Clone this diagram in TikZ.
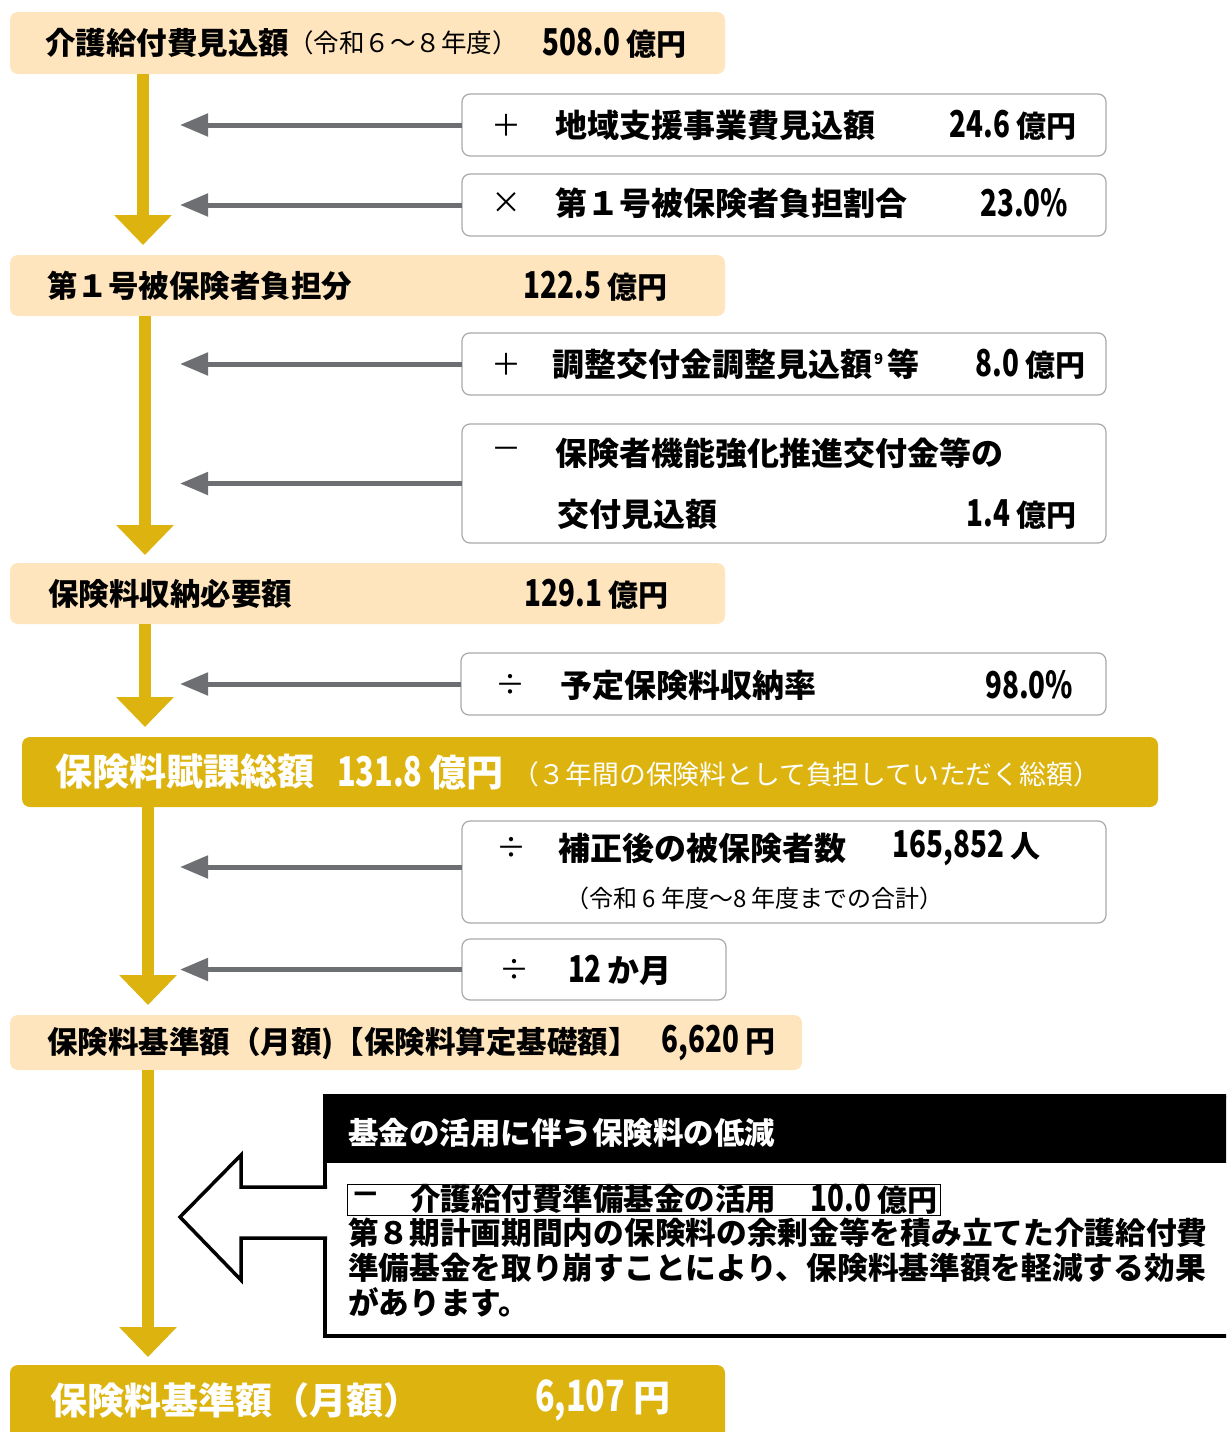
\documentclass[tikz,border=0pt]{standalone}
\usepackage{fontspec}
\setmainfont{Noto Sans CJK JP}
\newfontfamily\numf{Noto Sans CJK JP}[FakeStretch=0.75]
\usetikzlibrary{arrows.meta}
\definecolor{peach}{HTML}{FFE5BE}
\definecolor{gold}{HTML}{DDB40F}
\definecolor{agray}{HTML}{6E6F72}
\definecolor{bgray}{HTML}{A9A9A9}
\newcommand\valnum[1]{{\numf\fontsize{37}{38}\selectfont #1}}
\newcommand\valnumL[1]{{\numf\fontsize{43}{44}\selectfont #1}}
\tikzset{
  base/.style={inner sep=0pt, outer sep=0pt},
  peachbox/.style={base, anchor=north west, fill=peach, rounded corners=8pt},
  goldbox/.style={base, anchor=north west, fill=gold, rounded corners=8pt},
  opbox/.style={base, anchor=north west, fill=white, draw=bgray, line width=1.2pt, rounded corners=8pt},
  lbl/.style={base, anchor=west, font=\fontsize{30.5}{36}\selectfont\bfseries},
  oplbl/.style={base, anchor=west, font=\fontsize{32}{36}\selectfont\bfseries},
  val/.style={base, anchor=east, font=\fontsize{30}{36}\selectfont\bfseries},
  sym/.style={base, anchor=center, font=\fontsize{30}{36}\selectfont},
  small/.style={base, anchor=west, font=\fontsize{24}{28}\selectfont},
  biglbl/.style={base, anchor=west, text=white, font=\fontsize{37}{42}\selectfont\bfseries},
  yarrow/.style={draw=gold, line width=12pt, -{Triangle[width=56pt,length=30pt]}},
  garrow/.style={draw=agray, line width=5pt, -{Triangle[width=22pt,length=28pt]}},
}
\begin{document}
\begin{tikzpicture}[x=1pt,y=-1pt]
\useasboundingbox (0,0) rectangle (1226,1432);
\clip (0,0) rectangle (1226,1432);

% ---------- boxes ----------
\node[peachbox, minimum width=715pt, minimum height=62pt] (A) at (10,12) {};
\node[opbox, minimum width=644pt, minimum height=62pt] (op1) at (462,94) {};
\node[opbox, minimum width=644pt, minimum height=62pt] (op2) at (462,174) {};
\node[peachbox, minimum width=715pt, minimum height=61pt] (B) at (10,255) {};
\node[opbox, minimum width=644pt, minimum height=62pt] (op3) at (462,333) {};
\node[opbox, minimum width=644pt, minimum height=119pt] (op4) at (462,424) {};
\node[peachbox, minimum width=715pt, minimum height=61pt] (C) at (10,563) {};
\node[opbox, minimum width=645pt, minimum height=62pt] (op5) at (461,653) {};
\node[goldbox, minimum width=1136pt, minimum height=70pt] (D) at (22,737) {};
\node[opbox, minimum width=644pt, minimum height=102pt] (op6) at (462,821) {};
\node[opbox, minimum width=264pt, minimum height=61pt] (op7) at (462,939) {};
\node[peachbox, minimum width=792pt, minimum height=55pt] (E) at (10,1015) {};
\node[goldbox, minimum width=715pt, minimum height=80pt] (F) at (10,1365) {};

% ---------- yellow flow arrows ----------
\coordinate (y1) at (143,245);
\coordinate (y2) at (145,555);
\coordinate (y3) at (145,727);
\coordinate (y4) at (148,1005);
\coordinate (y5) at (148,1357);
\draw[yarrow] (A.south -| y1) -- (y1);
\draw[yarrow] (B.south -| y2) -- (y2);
\draw[yarrow] (C.south -| y3) -- (y3);
\draw[yarrow] (D.south -| y4) -- (y4);
\draw[yarrow] (E.south -| y5) -- (y5);

% ---------- gray arrows ----------
\coordinate (gx) at (180,0);
\draw[garrow] (op1.west) -- (op1.west -| gx);
\draw[garrow] (op2.west) -- (op2.west -| gx);
\draw[garrow] (op3.west) -- (op3.west -| gx);
\draw[garrow] (op4.west) -- (op4.west -| gx);
\draw[garrow] (op5.west) -- (op5.west -| gx);
\coordinate (g6) at (462,867);
\draw[garrow] (g6) -- (g6 -| gx);
\draw[garrow] (op7.west) -- (op7.west -| gx);

% ---------- texts ----------
\node[lbl] (tA) at (45,43) {介護給付費見込額};
\node[small, font=\fontsize{25.5}{28}\selectfont] (tA2) at (288,43) {（令和６～８年度）};
\node[val] (vA) at (686,43) {\valnum{508.0}\hspace{6pt}億円};

\node[sym] (s1) at (506,125) {＋};
\node[oplbl] (t1) at (555,125) {地域支援事業費見込額};
\node[val] (v1) at (1076,125) {\valnum{24.6}\hspace{6pt}億円};

\node[sym] (s2) at (506,203) {×};
\node[oplbl] (t2) at (555,203) {第１号被保険者負担割合};
\node[val] (v2) at (1068,203) {\valnum{23.0\%}};

\node[lbl] (tB) at (47,286) {第１号被保険者負担分};
\node[val] (vB) at (667,286) {\valnum{122.5}\hspace{6pt}億円};

\node[sym] (s3) at (506,364) {＋};
\node[oplbl] (t3) at (552,364) {調整交付金調整見込額\hspace{2pt}\raisebox{12pt}{\fontsize{15}{15}\selectfont 9}\hspace{4pt}等};
\node[val] (v3) at (1085,364) {\valnum{8.0}\hspace{6pt}億円};

\node[sym] (s4) at (506,453) {－};
\node[oplbl] (t4) at (555,453) {保険者機能強化推進交付金等の};
\node[oplbl] (t4b) at (557,514) {交付見込額};
\node[val] (v4) at (1076,514) {\valnum{1.4}\hspace{6pt}億円};

\node[lbl] (tC) at (48,594) {保険料収納必要額};
\node[val] (vC) at (668,594) {\valnum{129.1}\hspace{6pt}億円};

\node[sym] (s5) at (510,685) {÷};
\node[oplbl] (t5) at (560,685) {予定保険料収納率};
\node[val] (v5) at (1073,685) {\valnum{98.0\%}};

\node[biglbl] (tD) at (55,772) {保険料賦課総額};
\node[biglbl] (vD) at (337,772) {{\numf\fontsize{41}{42}\selectfont 131.8}\hspace{7pt}億円};
\node[base, anchor=west, text=white, font=\fontsize{26.8}{30}\selectfont] (tD2) at (512,774) {（３年間の保険料として負担していただく総額）};

\node[sym] (s6) at (511,848) {÷};
\node[oplbl] (t6) at (558,848) {補正後の被保険者数};
\node[val] (v6) at (1040,848) {\valnum{165,852}\hspace{6pt}人};
\node[small] (t6b) at (565,898) {（令和 6 年度～8 年度までの合計）};

\node[sym] (s7) at (514,970) {÷};
\node[oplbl] (t7) at (568,970) {\valnum{12}\hspace{6pt}か月};

\node[lbl] (tE) at (47,1043) {保険料基準額（月額)【保険料算定基礎額】};
\node[val] (vE) at (775,1043) {\valnum{6,620}\hspace{6pt}円};

% ---------- fund box ----------
\node[base, anchor=north west, draw=black, line width=4pt, fill=white, minimum width=920pt, minimum height=240pt] (fund) at (325,1096) {};
\node[base, anchor=north west, fill=black, minimum width=920pt, minimum height=67pt] (fundhead) at (325,1096) {};
\node[base, anchor=west, text=white, font=\fontsize{30.5}{36}\selectfont\bfseries] (tH) at (348,1133) {基金の活用に伴う保険料の低減};
\node[base, anchor=north west, draw=black, line width=1pt, minimum width=593pt, minimum height=31pt] (fundline) at (347,1184) {};
\node[lbl] (tf1) at (350,1199) {－};
\node[lbl] (tf2) at (410,1199) {介護給付費準備基金の活用};
\node[val] (vf) at (937,1199) {\valnum{10.0}\hspace{6pt}億円};
\node[lbl, font=\fontsize{30.7}{36}\selectfont\bfseries] (tf3) at (348,1233) {第８期計画期間内の保険料の余剰金等を積み立てた介護給付費};
\node[lbl, font=\fontsize{30.7}{36}\selectfont\bfseries] (tf4) at (348,1268) {準備基金を取り崩すことにより、保険料基準額を軽減する効果};
\node[lbl, font=\fontsize{30.7}{36}\selectfont\bfseries] (tf5) at (348,1302) {があります。};

% hollow arrow
\fill[white] (328,1187) -- (241,1187) -- (241,1155) -- (180,1217) -- (241,1280) -- (241,1238) -- (328,1238) -- cycle;
\draw[black, line width=3.5pt, line join=miter] (327,1187) -- (241,1187) -- (241,1155) -- (180,1217) -- (241,1280) -- (241,1238) -- (327,1238);

% ---------- final box ----------
\node[biglbl] (tF) at (50,1400) {保険料基準額（月額）};
\node[biglbl, anchor=east] (vF) at (670,1400) {\valnumL{6,107}\hspace{8pt}円};
\end{tikzpicture}
\end{document}
